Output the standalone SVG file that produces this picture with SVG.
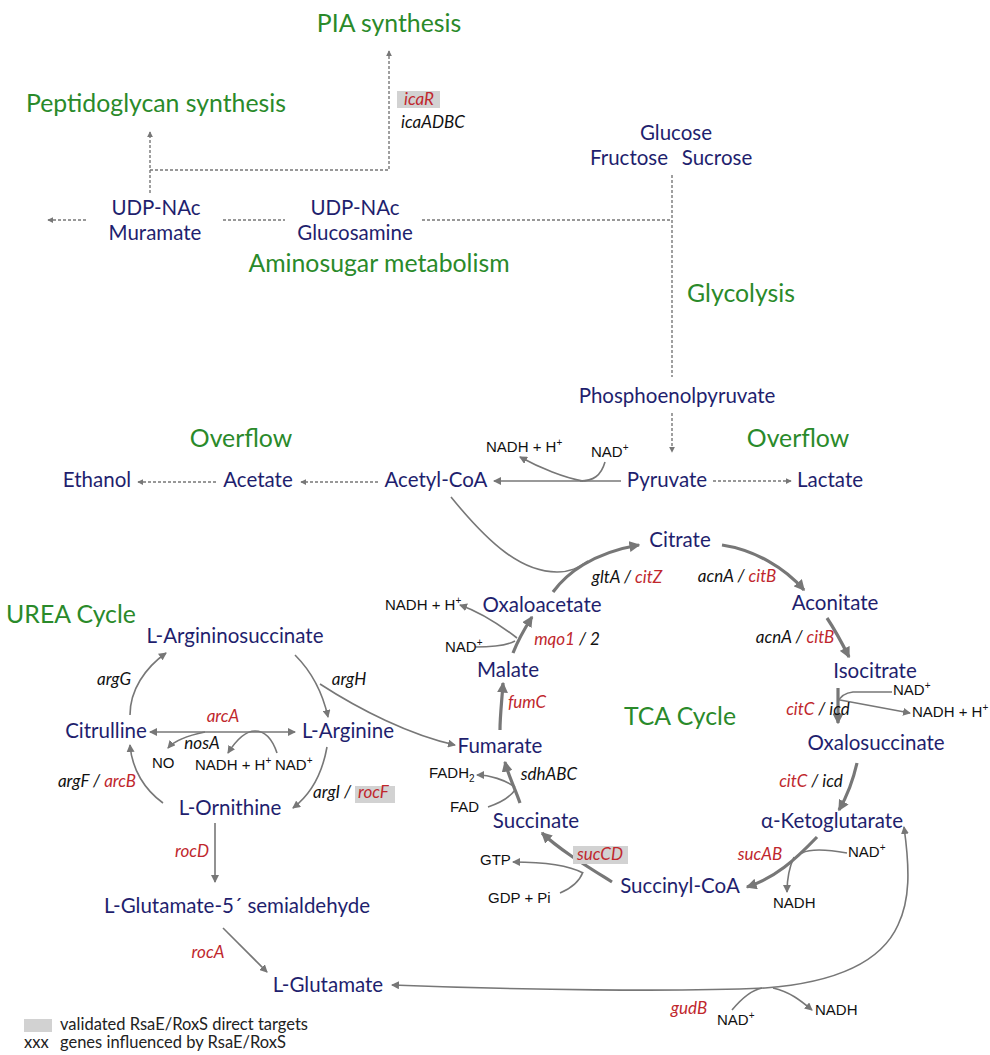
<svg xmlns="http://www.w3.org/2000/svg" width="990" height="1055" viewBox="0 0 990 1055">
<style>
.t{font-family:Lato,"Open Sans","Liberation Sans",sans-serif;font-size:24.8px;fill:#2a8a2a;text-anchor:middle}
.m{font-family:Lato,"Open Sans","Liberation Sans",sans-serif;font-size:20.5px;fill:#1f1f6e;text-anchor:middle}
.g{font-family:Lato,"Open Sans","Liberation Sans",sans-serif;font-size:17px;font-style:italic;fill:#111;text-anchor:middle}
.r{fill:#c0272d}
.s{font-family:"Liberation Sans",Arial,sans-serif;font-size:15px;fill:#111}
.l{font-family:Lato,"Open Sans","Liberation Sans",sans-serif;font-size:16.5px;fill:#222}
.box{fill:#d2d2d2}
.dash{fill:none;stroke:#777;stroke-width:1.4;stroke-dasharray:3 2}
.thin{fill:none;stroke:#777;stroke-width:1.6}
.thick{fill:none;stroke:#777;stroke-width:3.2}
</style>
<defs>
<marker id="ad" viewBox="0 0 8 8" refX="7" refY="4" markerWidth="6" markerHeight="6" markerUnits="userSpaceOnUse" orient="auto-start-reverse"><path d="M0,0 L8,4 L0,8 z" fill="#777"/></marker>
<marker id="a" viewBox="0 0 8 8" refX="7" refY="4" markerWidth="8" markerHeight="8" markerUnits="userSpaceOnUse" orient="auto-start-reverse"><path d="M0,0 L8,4 L0,8 z" fill="#777"/></marker>
<marker id="at" viewBox="0 0 8 8" refX="7" refY="4" markerWidth="11" markerHeight="11" markerUnits="userSpaceOnUse" orient="auto-start-reverse"><path d="M0,0 L8,4 L0,8 z" fill="#777"/></marker>
</defs>
<rect width="990" height="1055" fill="#fff"/>

<g id="connectors">
<path class="dash" d="M150,193 V132" marker-end="url(#ad)"/>
<path class="dash" d="M150,170 H389 V51" marker-end="url(#ad)"/>
<path class="dash" d="M86,220 H48" marker-end="url(#ad)"/>
<path class="dash" d="M223,220 H285"/>
<path class="dash" d="M422,220 H672"/>
<path class="dash" d="M672,175 V377"/>
<path class="dash" d="M672,413 V452" marker-end="url(#ad)"/>
<path class="dash" d="M713,481 H791" marker-end="url(#ad)"/>
<path class="dash" d="M378,482 H301" marker-end="url(#ad)"/>
<path class="dash" d="M216,482 H138" marker-end="url(#ad)"/>
<path class="thin" d="M621,481 H494" marker-end="url(#a)"/>
<path class="thin" d="M605,462 C601,476 593,481 580,481"/>
<path class="thin" d="M583,481 C565,478 540,468 520,457" marker-end="url(#a)"/>
<path class="thin" d="M451,497 C490,545 522,572 557,572 C570,572 578,568 588,561"/>
<path class="thick" d="M553,592 C566,574 592,553 639,545" marker-end="url(#at)"/>
<path class="thick" d="M722,545 C755,550 785,568 804,590" marker-end="url(#at)"/>
<path class="thick" d="M827,618 C835,630 843,645 849,657" marker-end="url(#at)"/>
<path class="thick" d="M838,688 V723" marker-end="url(#at)"/>
<path class="thick" d="M857,763 C852,785 846,798 839,810" marker-end="url(#at)"/>
<path class="thick" d="M817,837 C795,860 775,878 747,887" marker-end="url(#at)"/>
<path class="thick" d="M612,882 C585,865 560,850 542,833" marker-end="url(#at)"/>
<path class="thick" d="M520,803 C515,788 508,775 505,762" marker-end="url(#at)"/>
<path class="thick" d="M500,730 C500,715 502,700 503,683" marker-end="url(#at)"/>
<path class="thick" d="M513,653 C518,640 525,628 532,617" marker-end="url(#at)"/>
<path class="thin" d="M517,638 C500,625 480,612 460,605" marker-end="url(#a)"/>
<path class="thin" d="M475,647 C495,647 508,645 515,641"/>
<path class="thin" d="M892,692 H853 C845,693 840,697 838,702"/>
<path class="thin" d="M840,700 L910,713" marker-end="url(#a)"/>
<path class="thin" d="M515,787 C505,780 490,775 477,775" marker-end="url(#a)"/>
<path class="thin" d="M488,807 C500,803 510,797 515,790"/>
<path class="thin" d="M583,873 C570,866 545,862 513,862" marker-end="url(#a)"/>
<path class="thin" d="M560,893 C572,888 580,880 583,872"/>
<path class="thin" d="M847,853 C830,850 812,848 802,853"/>
<path class="thin" d="M794,857 C788,870 787,880 787,892" marker-end="url(#a)"/>
<path class="thin" d="M732,1010 C742,998 752,990 762,988"/>
<path class="thin" d="M773,988 C790,992 800,1000 812,1010" marker-end="url(#a)"/>
<path class="thin" d="M904,827 C910,870 910,900 898,925 C880,965 830,983 765,988 C680,992 520,990 392,985" marker-start="url(#a)" marker-end="url(#a)"/>
<path class="thin" d="M130,715 C130,690 145,668 166,653" marker-end="url(#a)"/>
<path class="thin" d="M295,655 C310,670 322,690 328,717" marker-end="url(#a)"/>
<path class="thin" d="M320,684 C360,710 410,735 455,745" marker-end="url(#a)"/>
<path class="thin" d="M295,732 H150" marker-start="url(#a)" marker-end="url(#a)"/>
<path class="thin" d="M205,732 C190,735 175,740 168,748" marker-end="url(#a)"/>
<path class="thin" d="M277,753 C272,738 265,731 255,731 C245,731 235,742 228,753" marker-end="url(#a)"/>
<path class="thin" d="M327,747 C322,775 310,795 293,808" marker-end="url(#a)"/>
<path class="thin" d="M163,803 C145,790 132,770 130,745" marker-end="url(#a)"/>
<path class="thin" d="M215,823 V882" marker-end="url(#a)"/>
<path class="thin" d="M223,928 L267,972" marker-end="url(#a)"/>
</g>

<g id="titles">
<text class="t" x="389" y="32">PIA synthesis</text>
<text class="t" x="156" y="112">Peptidoglycan synthesis</text>
<text class="t" x="379" y="272">Aminosugar metabolism</text>
<text class="t" x="741" y="302">Glycolysis</text>
<text class="t" x="241" y="447">Overflow</text>
<text class="t" x="798" y="447">Overflow</text>
<text class="t" x="71" y="623">UREA Cycle</text>
<text class="t" x="680" y="725">TCA Cycle</text>
</g>

<g id="udp-muramate"><text class="m" x="156" y="215">UDP-NAc</text><text class="m" x="155" y="240">Muramate</text></g>
<g id="udp-glucosamine"><text class="m" x="355" y="215">UDP-NAc</text><text class="m" x="355" y="240">Glucosamine</text></g>
<g id="sugars"><text class="m" x="676" y="140">Glucose</text><text class="m" x="629" y="165">Fructose</text><text class="m" x="717" y="165">Sucrose</text></g>
<g id="pep"><text class="m" x="677" y="403">Phosphoenolpyruvate</text></g>
<g id="pyruvate"><text class="m" x="667" y="487">Pyruvate</text></g>
<g id="lactate"><text class="m" x="830" y="487">Lactate</text></g>
<g id="acetylcoa"><text class="m" x="436" y="487">Acetyl-CoA</text></g>
<g id="acetate"><text class="m" x="258" y="487">Acetate</text></g>
<g id="ethanol"><text class="m" x="97" y="487">Ethanol</text></g>
<g id="citrate"><text class="m" x="680" y="547">Citrate</text></g>
<g id="aconitate"><text class="m" x="835" y="610">Aconitate</text></g>
<g id="isocitrate"><text class="m" x="875" y="678">Isocitrate</text></g>
<g id="oxalosuccinate"><text class="m" x="876" y="750">Oxalosuccinate</text></g>
<g id="aketoglutarate"><text class="m" x="832" y="828">α-Ketoglutarate</text></g>
<g id="succinylcoa"><text class="m" x="680" y="893">Succinyl-CoA</text></g>
<g id="succinate"><text class="m" x="536" y="828">Succinate</text></g>
<g id="fumarate"><text class="m" x="500" y="753">Fumarate</text></g>
<g id="malate"><text class="m" x="508" y="677">Malate</text></g>
<g id="oxaloacetate"><text class="m" x="542" y="612">Oxaloacetate</text></g>
<g id="argininosuccinate"><text class="m" x="235" y="643">L-Argininosuccinate</text></g>
<g id="citrulline"><text class="m" x="106" y="738">Citrulline</text></g>
<g id="arginine"><text class="m" x="348" y="738">L-Arginine</text></g>
<g id="ornithine"><text class="m" x="230" y="815">L-Ornithine</text></g>
<g id="semialdehyde"><text class="m" x="237" y="913">L-Glutamate-5´ semialdehyde</text></g>
<g id="glutamate"><text class="m" x="328" y="992">L-Glutamate</text></g>

<g id="genes">
<rect class="box" x="397" y="91" width="43" height="17"/>
<text class="g r" x="419" y="105">icaR</text>
<text class="g" x="433" y="128">icaADBC</text>
<text class="g" x="627" y="583">gltA / <tspan class="r">citZ</tspan></text>
<text class="g" x="737" y="582">acnA / <tspan class="r">citB</tspan></text>
<text class="g" x="795" y="643">acnA / <tspan class="r">citB</tspan></text>
<text class="g" x="567" y="645"><tspan class="r">mqo1</tspan> / 2</text>
<text class="g r" x="527" y="708">fumC</text>
<text class="g" x="818" y="715"><tspan class="r">citC</tspan> / icd</text>
<text class="g" x="811" y="787"><tspan class="r">citC</tspan> / icd</text>
<text class="g" x="549" y="780">sdhABC</text>
<rect class="box" x="573" y="846" width="55" height="18"/>
<text class="g r" x="600" y="860">sucCD</text>
<text class="g r" x="760" y="860">sucAB</text>
<text class="g" x="114" y="685">argG</text>
<text class="g" x="349" y="685">argH</text>
<text class="g r" x="223" y="722">arcA</text>
<text class="g" x="202" y="749">nosA</text>
<text class="g" x="97" y="787">argF / <tspan class="r">arcB</tspan></text>
<rect class="box" x="355" y="786" width="40" height="17"/>
<text class="g" x="313" y="798" style="text-anchor:start">argI / <tspan class="r" x="358">rocF</tspan></text>
<text class="g r" x="192" y="857">rocD</text>
<text class="g r" x="208" y="958">rocA</text>
<text class="g r" x="689" y="1014">gudB</text>
</g>

<g id="cofactors">
<text class="s" x="486" y="452">NADH + H<tspan dy="-6" font-size="10">+</tspan></text>
<text class="s" x="591" y="457">NAD<tspan dy="-6" font-size="10">+</tspan></text>
<text class="s" x="385" y="610">NADH + H<tspan dy="-6" font-size="10">+</tspan></text>
<text class="s" x="445" y="652">NAD<tspan dy="-6" font-size="10">+</tspan></text>
<text class="s" x="893" y="695">NAD<tspan dy="-6" font-size="10">+</tspan></text>
<text class="s" x="912" y="717">NADH + H<tspan dy="-6" font-size="10">+</tspan></text>
<text class="s" x="152" y="768">NO</text>
<text class="s" x="195" y="770">NADH + H<tspan dy="-6" font-size="10">+</tspan></text>
<text class="s" x="275" y="770">NAD<tspan dy="-6" font-size="10">+</tspan></text>
<text class="s" x="429" y="778">FADH<tspan dy="4" font-size="10">2</tspan></text>
<text class="s" x="450" y="812">FAD</text>
<text class="s" x="480" y="865">GTP</text>
<text class="s" x="488" y="903">GDP + Pi</text>
<text class="s" x="848" y="857">NAD<tspan dy="-6" font-size="10">+</tspan></text>
<text class="s" x="773" y="908">NADH</text>
<text class="s" x="717" y="1025">NAD<tspan dy="-6" font-size="10">+</tspan></text>
<text class="s" x="815" y="1015">NADH</text>
</g>

<g id="legend">
<rect class="box" x="24" y="1019" width="28" height="13"/>
<text class="l" x="60" y="1030">validated RsaE/RoxS direct targets</text>
<text class="l r" x="24" y="1048">xxx</text>
<text class="l" x="60" y="1048">genes influenced by RsaE/RoxS</text>
</g>
</svg>
